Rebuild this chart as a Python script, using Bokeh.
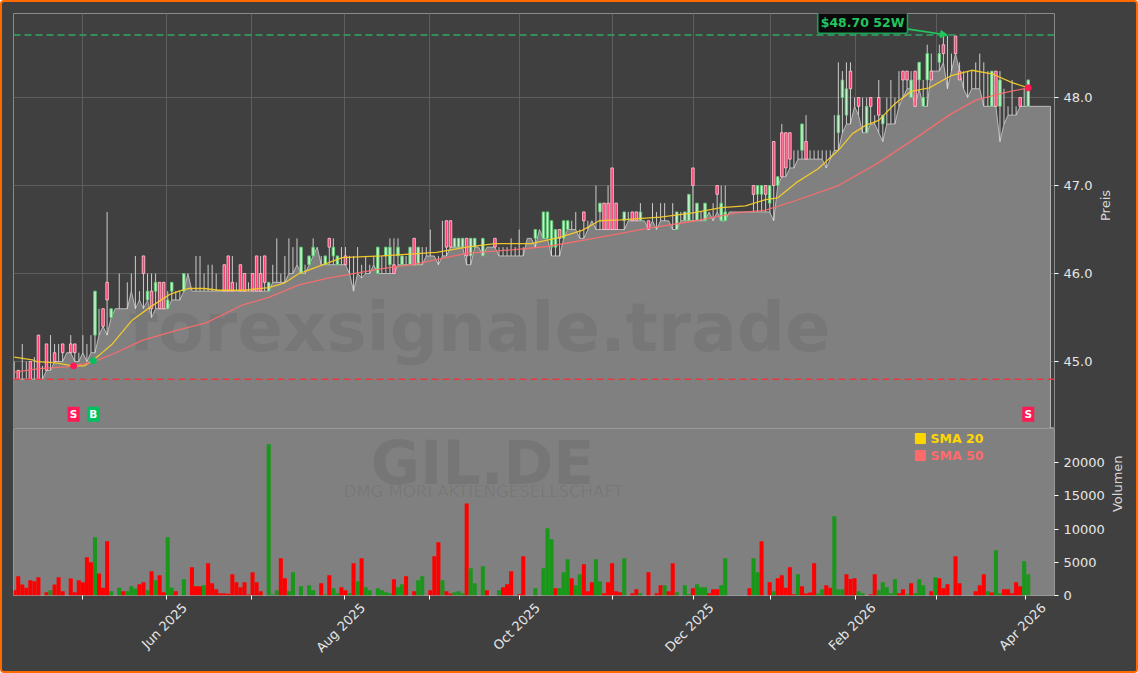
import numpy as np
from bokeh.plotting import figure
from bokeh.layouts import column
from bokeh.embed import file_html
from bokeh.resources import INLINE
from bokeh.core.properties import value
from bokeh.models import (Range1d, FixedTicker, Label, Arrow, NormalHead, Span,
                          NumeralTickFormatter, LinearAxis)

# ---------- data ----------
opens = [44.8,44.9,44.8,44.8,45.0,44.8,45.3,44.8,45.2,44.9,
 45.1,45.0,45.2,45.1,45.2,45.2,45.0,45.1,45.0,45.1,
 45.3,45.4,45.6,45.9,45.5,45.6,45.6,45.6,45.6,45.8,
 45.8,45.7,46.2,45.7,45.8,45.8,45.9,45.9,45.6,45.8,
 45.7,45.7,45.8,46.0,45.8,45.8,45.8,45.8,45.8,45.8,
 45.8,45.8,46.1,46.2,45.9,45.8,46.1,46.0,45.8,46.0,
 46.2,46.0,46.2,45.8,45.9,45.9,45.9,45.9,46.0,46.0,
 46.1,46.0,46.0,46.1,46.2,46.3,46.1,46.1,46.4,46.2,
 46.1,46.1,46.2,46.0,45.9,46.0,46.0,46.0,46.0,46.1,
 46.0,46.0,46.2,46.1,46.1,46.2,46.1,46.2,46.1,46.4,
 46.1,46.2,46.2,46.2,46.2,46.1,46.2,46.6,46.6,46.3,
 46.3,46.3,46.4,46.2,46.3,46.3,46.2,46.3,46.3,46.4,
 46.2,46.2,46.2,46.2,46.2,46.3,46.2,46.4,46.4,46.4,
 46.5,46.4,46.4,46.3,46.3,46.5,46.4,46.5,46.5,46.5,
 46.4,46.7,46.5,46.6,46.5,46.7,46.8,46.8,47.2,46.8,
 46.5,46.6,46.6,46.7,46.7,46.6,46.6,46.6,46.6,46.5,
 46.6,46.6,46.6,46.7,46.5,46.6,46.6,46.6,47.2,46.6,
 46.6,46.6,46.7,46.6,47.0,46.6,46.6,46.7,46.7,46.7,
 46.7,46.7,46.7,47.0,46.9,46.9,47.0,46.8,47.5,47.0,
 47.6,47.6,47.6,47.2,47.3,47.4,47.5,47.3,47.3,47.3,
 47.3,47.2,47.3,47.4,47.6,48.0,47.8,48.3,47.9,48.0,
 47.9,47.6,48.0,47.7,48.0,47.7,47.7,47.7,47.7,47.9,
 48.3,48.3,48.0,48.3,48.2,47.9,48.2,48.3,48.3,48.4,
 48.6,48.1,48.3,48.7,48.3,48.1,48.0,48.1,48.1,48.1,
 47.9,47.9,47.9,48.3,47.9,47.9,47.9,47.9,47.9,48.0,
 47.9,47.9]
closes = [44.8,44.8,44.8,44.8,44.8,44.8,44.8,44.8,44.9,44.9,
 45.0,45.0,45.1,45.1,45.1,45.1,45.0,45.1,45.0,45.1,
 45.8,45.4,45.4,45.7,45.6,45.6,45.6,45.6,45.6,45.8,
 45.8,45.7,46.0,45.8,45.6,45.9,45.6,45.6,45.7,45.9,
 45.7,45.7,46.0,46.0,45.8,45.8,45.8,45.8,45.8,45.8,
 45.8,45.8,45.8,45.8,45.8,45.8,45.8,45.8,45.8,45.8,
 45.8,45.8,45.9,45.9,45.9,45.9,45.9,45.9,46.0,46.0,
 46.1,46.3,46.0,46.2,46.3,46.3,46.1,46.2,46.3,46.3,
 46.2,46.1,46.1,46.0,45.9,46.0,46.0,46.0,46.0,46.1,
 46.3,46.0,46.3,46.3,46.0,46.3,46.2,46.2,46.3,46.1,
 46.3,46.2,46.2,46.2,46.2,46.1,46.2,46.3,46.3,46.4,
 46.4,46.4,46.2,46.4,46.4,46.3,46.4,46.3,46.3,46.3,
 46.2,46.2,46.2,46.2,46.2,46.3,46.2,46.4,46.4,46.5,
 46.5,46.7,46.7,46.6,46.5,46.4,46.6,46.6,46.5,46.5,
 46.4,46.6,46.5,46.6,46.5,46.8,46.5,46.5,46.5,46.5,
 46.5,46.7,46.6,46.6,46.6,46.7,46.6,46.5,46.6,46.5,
 46.6,46.6,46.6,46.7,46.7,46.6,46.7,46.9,47.0,46.8,
 46.6,46.8,46.7,46.6,46.9,46.8,46.7,46.7,46.7,46.7,
 46.7,46.7,46.7,46.9,47.0,47.0,46.9,47.0,47.0,47.1,
 47.1,47.2,47.3,47.2,47.3,47.7,47.3,47.3,47.3,47.3,
 47.3,47.2,47.3,47.4,47.8,48.2,48.1,48.1,47.9,47.9,
 47.9,47.9,47.9,47.7,47.8,47.8,47.7,47.7,47.7,47.9,
 48.2,48.2,48.2,47.9,48.4,48.0,48.5,48.2,48.3,48.5,
 48.5,48.1,48.3,48.5,48.2,48.1,48.0,48.1,48.1,48.1,
 47.9,47.9,48.3,47.9,48.2,47.9,47.9,47.9,47.9,47.9,
 47.9,48.2]
highs = [45.0,44.9,45.2,45.0,45.0,45.05,45.3,44.95,45.2,45.3,
 45.2,45.2,45.2,45.1,45.3,45.2,45.1,45.3,45.2,45.3,
 45.8,45.6,45.6,46.7,45.6,45.6,46.0,45.6,45.9,46.0,
 46.2,45.8,46.2,46.0,46.0,46.0,45.9,45.9,45.8,45.9,
 45.8,45.8,46.0,46.0,45.8,46.2,46.2,46.0,46.1,46.1,
 46.0,45.8,46.1,46.2,46.2,45.9,46.1,46.0,45.9,46.0,
 46.2,46.2,46.2,45.9,46.1,46.4,46.0,46.2,46.4,46.3,
 46.4,46.3,46.1,46.2,46.4,46.3,46.2,46.2,46.4,46.4,
 46.2,46.3,46.3,46.2,46.2,46.3,46.1,46.2,46.1,46.2,
 46.3,46.2,46.3,46.4,46.4,46.4,46.2,46.2,46.3,46.4,
 46.3,46.3,46.3,46.5,46.2,46.2,46.6,46.6,46.6,46.4,
 46.4,46.4,46.4,46.4,46.4,46.3,46.4,46.3,46.3,46.4,
 46.3,46.3,46.3,46.4,46.3,46.5,46.3,46.4,46.4,46.5,
 46.5,46.7,46.7,46.6,46.5,46.5,46.6,46.6,46.6,46.7,
 46.5,46.7,46.6,46.6,47.0,46.8,46.8,47.0,47.2,46.8,
 46.5,46.7,46.7,46.7,46.7,46.8,46.6,46.6,46.8,46.7,
 46.8,46.8,46.6,46.8,46.7,46.7,46.7,46.9,47.2,46.8,
 46.7,46.8,46.7,46.8,47.0,47.0,47.0,46.7,46.7,46.7,
 46.7,46.7,46.7,47.0,47.0,47.0,47.0,47.0,47.5,47.1,
 47.7,47.6,47.6,47.4,47.4,47.7,47.8,47.4,47.4,47.4,
 47.4,47.4,47.4,47.8,48.4,48.3,48.4,48.4,48.0,48.0,
 48.0,48.0,48.0,47.8,48.2,47.8,48.0,48.2,48.0,48.3,
 48.3,48.3,48.3,48.3,48.4,48.2,48.6,48.5,48.3,48.6,
 48.7,48.7,48.5,48.7,48.4,48.3,48.3,48.3,48.4,48.5,
 48.4,48.3,48.3,48.3,48.3,48.1,47.9,48.2,47.9,48.0,
 48.1,48.2]
lows = [44.8,44.8,44.8,44.8,44.8,44.8,44.8,44.8,44.9,44.9,
 45.0,45.0,45.0,45.1,45.1,45.0,45.0,45.1,45.0,45.1,
 45.1,45.3,45.4,45.3,45.5,45.6,45.6,45.6,45.6,45.8,
 45.6,45.7,45.6,45.7,45.5,45.6,45.6,45.6,45.6,45.7,
 45.7,45.7,45.8,46.0,45.8,45.8,45.8,45.8,45.8,45.8,
 45.8,45.8,45.8,45.8,45.8,45.8,45.8,45.8,45.8,45.8,
 45.8,45.8,45.8,45.8,45.9,45.9,45.9,45.9,46.0,46.0,
 46.1,46.0,46.0,46.1,46.2,46.3,46.1,46.1,46.1,46.1,
 46.1,46.1,46.1,46.0,45.8,46.0,45.95,46.0,46.0,46.1,
 46.0,46.0,46.0,46.0,46.0,46.1,46.1,46.1,46.1,46.1,
 46.1,46.1,46.2,46.2,46.2,46.1,46.2,46.2,46.3,46.3,
 46.3,46.3,46.1,46.1,46.3,46.3,46.2,46.3,46.3,46.3,
 46.2,46.2,46.2,46.2,46.2,46.2,46.2,46.4,46.4,46.3,
 46.5,46.4,46.4,46.2,46.2,46.2,46.4,46.5,46.5,46.5,
 46.4,46.4,46.5,46.6,46.5,46.5,46.5,46.5,46.5,46.5,
 46.5,46.5,46.6,46.6,46.6,46.6,46.6,46.5,46.6,46.5,
 46.6,46.6,46.6,46.5,46.5,46.6,46.6,46.6,46.6,46.6,
 46.6,46.6,46.7,46.6,46.7,46.6,46.6,46.7,46.7,46.7,
 46.7,46.7,46.7,46.7,46.7,46.7,46.7,46.7,46.6,47.0,
 47.1,47.1,47.2,47.2,47.3,47.3,47.3,47.3,47.3,47.3,
 47.3,47.2,47.3,47.4,47.4,47.6,47.7,47.7,47.9,47.8,
 47.6,47.6,47.7,47.7,47.6,47.5,47.7,47.7,47.7,47.9,
 48.0,48.1,48.1,47.9,48.1,47.9,47.9,48.3,48.3,48.3,
 48.4,48.1,48.3,48.5,48.3,48.1,48.0,48.1,48.1,48.1,
 47.9,47.9,47.9,47.9,47.5,47.7,47.8,47.8,47.8,47.9,
 47.9,47.9]
volumes = [800,2900,1650,1150,2300,2150,2750,0,500,800,
 1650,2750,650,0,2550,500,2300,2000,5750,5000,
 8750,3300,1150,8150,650,0,1150,650,650,1400,
 1050,1700,2000,800,3650,2300,3050,500,8750,1150,
 650,0,2450,0,4250,1400,1400,1550,4850,1850,
 950,350,350,250,3200,2000,1250,2000,150,3500,
 2000,650,0,22750,150,800,5600,2600,650,3500,
 0,1400,0,1550,800,0,1850,150,3050,1100,
 350,1250,800,350,4850,2150,5600,1250,800,0,
 1100,800,500,350,2450,1250,1700,2900,0,650,
 2300,2900,0,800,5900,8000,2300,650,300,500,
 650,350,13850,4100,1850,0,4400,800,0,0,
 800,1250,1700,3650,0,200,5900,0,0,1100,
 0,4100,10100,8450,1100,1100,3500,5450,2600,1550,
 3200,4700,650,2000,5450,2150,350,2000,4850,650,
 500,5600,0,350,950,350,0,3500,0,350,
 1550,1550,650,4850,500,0,1550,200,1100,1700,
 1250,1250,350,950,950,1550,5600,0,0,0,
 0,0,1100,5600,3500,8150,0,2000,650,2600,
 3050,1150,4250,200,3200,1400,300,450,4850,300,
 950,1550,1150,11900,950,950,3200,2500,2600,650,
 350,0,200,3200,800,2000,1250,350,2450,350,
 950,200,1850,350,2450,1550,0,650,2750,2600,
 1100,1700,0,5900,1850,0,0,0,650,1550,
 3200,650,450,6800,350,950,950,350,2000,1400,
 5150,3200]
vol_side = list("rrrrrrrrrg" "rrrrrrrrrr" "grrrgrgrgg" "grrgrgrrgg" "rrgrrrrgrr"
                "rrrrrrrrrr" "rrrgggrrgg" "rgrggrrgrg" "grrgrgrggr" "ggggrggrrr"
                "ggrrrrgrrg" "ggrggrgrrr" "grrrrrrrrg" "rgggrgggrg" "grrrggrrrr"
                "rgrrrgrrrr" "rgrrgrggrg" "ggrrrggrrr" "rrrggrrrgr" "rrrrgrrrrg"
                "grrgggrrrg" "grrrgggggr" "rgrgggrrgr" "rrrrrrrrrr" "rgrggrrrrr" "gg")

sma20_idx = [0,4.5,5.5,8.7,11.1,14.4,17.3,19.3,21,24.3,29.2,33.4,38.4,40.8,43.3,47,50.7,57,63,66.8,
             70.5,81.2,91,104.5,112,119,128,135,140.6,144.8,150,160,168,175,181,186,189,193.5,199,204,
             207.5,211,214,218,222,226.5,232,237,242,247,251]
sma20_val = [45.05,45.02,45.0,44.99,44.98,44.95,44.95,45.01,45.07,45.2,45.47,45.61,45.76,45.8,45.83,45.83,45.81,45.81,45.84,45.89,
             46.0,46.18,46.2,46.24,46.3,46.34,46.34,46.41,46.49,46.6,46.61,46.64,46.69,46.75,46.77,46.84,46.86,47.03,47.19,47.4,
             47.59,47.69,47.74,47.93,48.07,48.11,48.25,48.31,48.27,48.17,48.11]
sma50_idx = [0,6.2,12.9,19.3,25.2,31.7,40,47.5,56.4,63,70.5,78,90.3,99.5,112,123.3,132.4,144.8,156.4,168.8,
             178.7,186,193.5,204,214,224.8,231.4,238,244.6,251]
sma50_val = [44.88,44.92,44.94,44.99,45.1,45.24,45.35,45.44,45.64,45.73,45.87,45.95,46.05,46.11,46.23,46.27,46.31,46.41,46.51,46.6,
             46.69,46.72,46.83,47.0,47.26,47.59,47.8,47.97,48.05,48.11]

tick_idx = [16.8,37.7,58.8,81.8,102.8,125.1,148.1,168.1,187.2,208.2,228.3,250.3]
tick_txt = ["","Jun 2025","","Aug 2025","","Oct 2025","","Dec 2025","","Feb 2026","","Apr 2026"]
price_ticks = [45,46,47,48]
vol_ticks = [0,5000,10000,15000,20000]

high_52w = 48.71
low_52w = 44.8
signal_idx = [14.7,19.6,251]
signal_price = [44.95,45.01,48.11]
signal_txt = ["S","B","S"]
signal_col = ["#ff1a55","#00c060","#ff1a55"]
area_end_idx = 256.5

FONT = "DejaVu Sans"
BG = "#404040"
GREY = "#808080"
B = 2  # outer border thickness

idx = np.arange(len(closes))
o, c, h, l = map(np.array, (opens, closes, highs, lows))
assert all(len(a) == 252 for a in (opens, closes, highs, lows, volumes, vol_side))

XR = Range1d(-0.17, 257.5)
Y_BOTTOM = 44.239

p1 = figure(width=1138 - 2 * B, height=428 - B, x_range=XR, y_range=Range1d(Y_BOTTOM, 48.955),
            y_axis_location="right", toolbar_location=None, output_backend="svg",
            min_border_top=13 - B, min_border_bottom=0, min_border_left=13 - B, min_border_right=84 - B)
p1.background_fill_color = BG
p1.border_fill_color = BG
p1.outline_line_color = "#8a8a8a"
p1.xaxis.visible = False

for g in (p1.xgrid[0], p1.ygrid[0]):
    g.grid_line_color = "#5e5e5e"
    g.grid_line_width = 1
    g.level = "underlay"
p1.xgrid.ticker = FixedTicker(ticks=tick_idx)
p1.ygrid.ticker = FixedTicker(ticks=price_ticks)

# area below the lows
ax = np.r_[XR.start, idx, area_end_idx]
ay = np.r_[l[0], l, l[-1]]
p1.varea(ax, y1=Y_BOTTOM, y2=ay, fill_color=GREY, fill_alpha=1)
p1.line(np.r_[ax, area_end_idx], np.r_[ay, Y_BOTTOM], line_color="#cfcfcf", line_width=1, line_alpha=0.8)

p1.text([(479 - 13.67) / 4.04], [45.386], text=["forexsignale.trade"], text_font=value(FONT),
        text_font_style="bold", text_font_size="67.4px", text_color="#000000", text_alpha=0.07,
        text_align="center", text_baseline="middle")

# candles
p1.segment(idx, l, idx, h, line_color="#e4e4e4", line_width=1, line_alpha=0.85)
up = c > o
dn = c < o
p1.vbar(idx[up], 0.62, o[up], c[up], fill_color="#c6f2cf", line_color="#5fc873", line_width=0.9)
p1.vbar(idx[dn], 0.62, c[dn], o[dn], fill_color="#ff3f72", line_color="#ffc0cf", line_width=0.9)

p1.line(sma20_idx, sma20_val, line_color="#f5cc2a", line_width=1.3, line_alpha=0.95)
p1.line(sma50_idx, sma50_val, line_color="#ff6b6b", line_width=1.3, line_alpha=0.9)

p1.add_layout(Span(location=high_52w, dimension="width", line_color="#2fa862", line_width=1.5, line_dash="7 4"))
p1.add_layout(Span(location=low_52w, dimension="width", line_color="#e8383f", line_width=1.5, line_dash="7 4"))

p1.scatter(signal_idx, signal_price, size=6, color=signal_col, marker="circle")
p1.rect(signal_idx, [44.4] * 3, width=12, height=15, width_units="screen", height_units="screen",
        fill_color=signal_col, line_color=None)
p1.text(signal_idx, [44.4] * 3, text=signal_txt, text_font=value(FONT), text_font_style="bold",
        text_font_size="10.5px", text_color="#ffffff", text_align="center", text_baseline="middle")

p1.add_layout(Arrow(end=NormalHead(size=7, fill_color="#22c55e", line_color="#22c55e"),
                    x_start=220.9, y_start=48.78, x_end=231.0, y_end=high_52w,
                    line_color="#22c55e", line_width=1.6))
p1.add_layout(Label(x=210, y=48.85, text="$48.70 52W", text_font=FONT, text_font_style="bold",
                    text_font_size="12.5px", text_color="#22c55e", text_align="center",
                    text_baseline="middle", background_fill_color="#0a0a0a",
                    border_line_color="#1f9d55", border_line_width=1.6, padding=3, border_radius=2))

p2 = figure(width=1138 - 2 * B, height=245 - B, x_range=XR, y_range=Range1d(0, 25113),
            y_axis_location="right", toolbar_location=None, output_backend="svg",
            min_border_top=0, min_border_bottom=78 - B, min_border_left=13 - B, min_border_right=84 - B)
p2.background_fill_color = GREY
p2.border_fill_color = BG
p2.outline_line_color = "#999999"
p2.grid.visible = False

p2.text([(482 - 13.67) / 4.04], [20000], text=["GIL.DE"], text_font=value(FONT), text_font_style="bold",
        text_font_size="60px", text_color="#000000", text_alpha=0.08, text_align="center", text_baseline="middle")
p2.text([(483 - 13.67) / 4.04], [15640], text=["DMG MORI AKTIENGESELLSCHAFT"], text_font=value(FONT),
        text_font_size="16.5px", text_color="#000000", text_alpha=0.08, text_align="center", text_baseline="middle")

v = np.array(volumes)
cols = ["#ff0000" if s == "r" else "#1a961a" for s in vol_side]
p2.vbar(idx, 1.0, 0, v, fill_color=cols, line_color=None)

p2.scatter([224.3], [23600], marker="square", size=10, color="#ffd700")
p2.scatter([224.3], [21050], marker="square", size=10, color="#ff6b6b")
p2.text([226.8], [23600], text=["SMA 20"], text_font=value(FONT), text_font_style="bold", text_font_size="12.5px",
        text_color="#ffd700", text_baseline="middle")
p2.text([226.8], [21050], text=["SMA 50"], text_font=value(FONT), text_font_style="bold", text_font_size="12.5px",
        text_color="#ff6b6b", text_baseline="middle")

# x axis: tick marks on one axis, centred date labels on a second one
p2.xaxis.ticker = FixedTicker(ticks=tick_idx)
p2.xaxis.major_label_overrides = {t: "" for t in tick_idx}
p2.xaxis.major_label_standoff = 0
label_shift = 4.5
lab_pos = [round(t + label_shift, 2) for t, s in zip(tick_idx, tick_txt) if s]
lab_txt = [s for s in tick_txt if s]
ax2 = LinearAxis(ticker=FixedTicker(ticks=lab_pos),
                 major_label_overrides=dict(zip(lab_pos, lab_txt)),
                 major_label_orientation=np.pi / 4, major_label_standoff=0,
                 major_tick_line_color=None, axis_line_color=None, minor_tick_line_color=None,
                 major_label_text_font=FONT, major_label_text_font_size="13px",
                 major_label_text_color="#e6e6e6")
p2.add_layout(ax2, "below")

p2.yaxis.ticker = FixedTicker(ticks=vol_ticks)
p2.yaxis.formatter = NumeralTickFormatter(format="0")
p1.yaxis.ticker = FixedTicker(ticks=price_ticks)
p1.yaxis.formatter = NumeralTickFormatter(format="0.0")
p1.yaxis.axis_label = "Preis"
p2.yaxis.axis_label = "Volumen"

for ax_ in (p1.yaxis[0], p2.yaxis[0], p2.xaxis[0]):
    ax_.major_label_text_font = FONT
    ax_.major_label_text_font_size = "13px"
    ax_.major_label_text_color = "#e6e6e6"
    ax_.major_tick_line_color = "#ffffff"
    ax_.major_tick_out = 4
    ax_.major_tick_in = 0
    ax_.minor_tick_line_color = None
    ax_.axis_line_color = None
for ax_ in (p1.yaxis[0], p2.yaxis[0]):
    ax_.axis_label_text_font = FONT
    ax_.axis_label_text_font_size = "13px"
    ax_.axis_label_text_font_style = "normal"
    ax_.axis_label_text_color = "#d8d8d8"
    ax_.axis_label_standoff = 10
    ax_.axis_label_orientation = np.pi / 2
    ax_.axis_label_text_align = "center"

layout = column(p1, p2, spacing=0,
                styles={"border": f"{B}px solid #ff6a00", "border-radius": "4px",
                        "overflow": "hidden", "background": BG})

open("out.html", "w").write(file_html(layout, INLINE))
